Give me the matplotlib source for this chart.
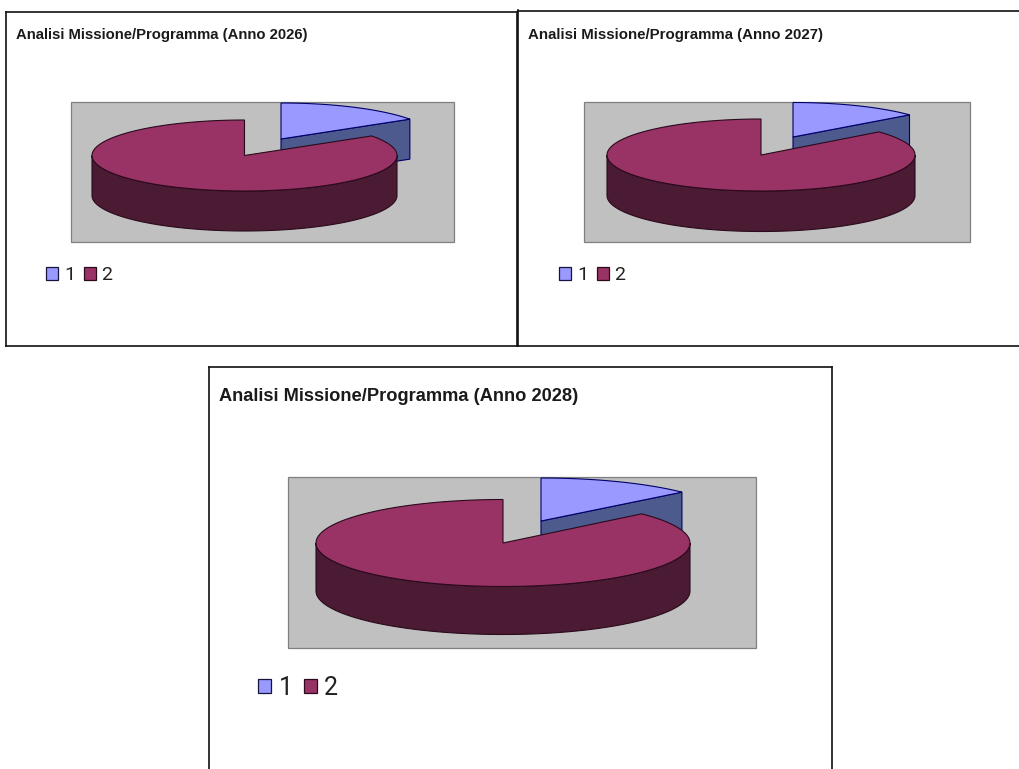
import numpy as np
import matplotlib
matplotlib.use("Agg")
import matplotlib.pyplot as plt
from matplotlib.patches import Patch, Polygon, Rectangle

plt.rcParams['font.family'] = ['Liberation Sans', 'DejaVu Sans']

W, H = 1019, 769

# share of each slice
years = [2026, 2027, 2028]
labels = ["1", "2"]
values_2026 = [15.7, 84.3]
values_2027 = [13.9, 86.1]
values_2028 = [13.3, 86.7]
all_values = [values_2026, values_2027, values_2028]

TOP_COLORS = ["#9999ff", "#993366"]
SIDE_COLORS = ["#4d5a8e", "#4b1a33"]
EDGE_COLORS = ["#000066", "#2a0a1c"]

# layout in pixels of the picture: box, plot area, pie, text
panels = [
    dict(box=(6, 12, 517, 346), hide=(), plot=(71, 102, 454, 242),
         pie=(244.5, 155.5, 152.5, 35.5, 40), off=(36.5, -16.5), small=(154.5, 36),
         title=(16, 35.5, 10.75), legend=(46, 275.5, 14, 0.62)),
    dict(box=(518, 10.5, 1025, 346.5), hide=("right",), plot=(584, 101.5, 970, 242),
         pie=(761, 155, 154, 36, 40.5), off=(32, -18), small=(152, 34.5),
         title=(528, 35, 10.85), legend=(559, 275.5, 14, 0.62)),
    dict(box=(209, 367, 832, 775), hide=("bottom",), plot=(288, 477, 756, 648),
         pie=(503, 543, 187, 43.5, 48), off=(38, -22), small=(190, 43),
         title=(219, 396, 13.15), legend=(258, 688, 18, 0.52)),
]


def arc(cx, cy, rx, ry, t0, t1):
    t = np.radians(np.linspace(t0, t1, 120))
    return np.column_stack([cx + rx * np.cos(t), cy - ry * np.sin(t)])


def draw_slice_top(ax, cx, cy, rx, ry, t0, t1, i, z):
    pts = np.vstack([[cx, cy], arc(cx, cy, rx, ry, t0, t1)])
    ax.add_patch(Polygon(pts, closed=True, fc=TOP_COLORS[i], ec=EDGE_COLORS[i], lw=0.8, zorder=z))


def draw_pie(ax, vals, p):
    cx, cy, rx, ry, depth = p["pie"]
    dx, dy = p["off"]
    srx, sry = p["small"]
    cut = 90 - vals[0] / sum(vals) * 360

    # exploded slice 1: cut face first, then its top
    sx, sy = cx + dx, cy + dy
    corner = arc(sx, sy, srx, sry, cut, cut)[0]
    face = [(sx, sy), tuple(corner), (corner[0], corner[1] + depth), (sx, sy + depth)]
    ax.add_patch(Polygon(face, closed=True, fc=SIDE_COLORS[0], ec=EDGE_COLORS[0], lw=0.8, zorder=3))
    draw_slice_top(ax, sx, sy, srx, sry, 90, cut, 0, 4)

    # slice 2: front wall, then top
    rim = arc(cx, cy, rx, ry, 0, -180)
    low = rim + [0, depth]
    ax.add_patch(Polygon(np.vstack([rim, low[::-1]]), closed=True, fc=SIDE_COLORS[1],
                         ec=EDGE_COLORS[1], lw=0.8, zorder=5))
    draw_slice_top(ax, cx, cy, rx, ry, cut, -270, 1, 6)


fig = plt.figure(figsize=(W / 100, H / 100), dpi=100, facecolor="white")

for year, vals, p in zip(years, all_values, panels):
    x0, y0, x1, y1 = p["box"]
    ax = fig.add_axes([x0 / W, 1 - y1 / H, (x1 - x0) / W, (y1 - y0) / H])
    ax.set_xlim(x0, x1)
    ax.set_ylim(y1, y0)
    ax.set_xticks([])
    ax.set_yticks([])
    for name, spine in ax.spines.items():
        spine.set_linewidth(1.2)
        spine.set_color("#111111")
        spine.set_visible(name not in p["hide"])

    px0, py0, px1, py1 = p["plot"]
    ax.add_patch(Rectangle((px0, py0), px1 - px0, py1 - py0, fc="#c0c0c0", ec="#808080", lw=0.9, zorder=1))
    draw_pie(ax, vals, p)

    tx, ty, tsize = p["title"]
    ax.text(tx, ty, f"Analisi Missione/Programma (Anno {year})", fontsize=tsize,
            fontweight="bold", color="#1a1a1a", ha="left", va="center")

    lx, ly, lsize, hsize = p["legend"]
    handles = [Patch(fc=TOP_COLORS[i], ec="#14143c" if i == 0 else "#2a0a1c", lw=0.9) for i in range(2)]
    # Liberation's "1" has a foot, the reference's has none
    leg = ax.legend(handles, labels, ncol=2, frameon=False,
                    prop=dict(family="Roboto", size=lsize),
                    loc="center left", bbox_to_anchor=(lx, ly), bbox_transform=ax.transData,
                    handlelength=hsize, handleheight=hsize, handletextpad=0.3,
                    columnspacing=0.45, borderpad=0, borderaxespad=0)
    for t in leg.get_texts():
        t.set_color("#222222")

fig.savefig("out.png", dpi=100)
